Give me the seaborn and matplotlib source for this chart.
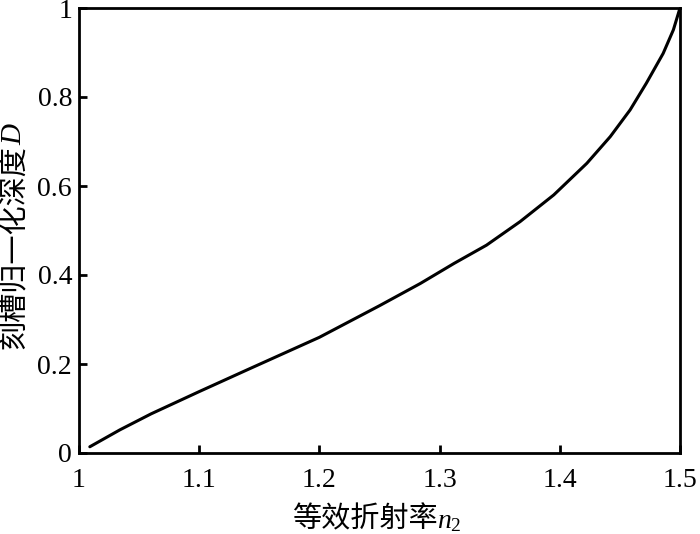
import matplotlib
matplotlib.use("Agg")
import matplotlib.pyplot as plt
import seaborn as sns
import pandas as pd

# data
n2 = [1.009, 1.034, 1.06, 1.10, 1.14, 1.20, 1.25, 1.284, 1.312, 1.339, 1.367,
      1.395, 1.4225, 1.442, 1.4585, 1.472, 1.486, 1.4945, 1.50]
D = [0.014, 0.052, 0.088, 0.138, 0.187, 0.260, 0.331, 0.381, 0.426, 0.467, 0.520,
     0.580, 0.651, 0.711, 0.771, 0.831, 0.898, 0.951, 1.000]
x_ticks = [1.0, 1.1, 1.2, 1.3, 1.4, 1.5]
x_tick_labels = ["1", "1.1", "1.2", "1.3", "1.4", "1.5"]
y_ticks = [0.0, 0.2, 0.4, 0.6, 0.8, 1.0]
y_tick_labels = ["0", "0.2", "0.4", "0.6", "0.8", "1"]
x_label = "等效折射率"
y_label = "刻槽归一化深度"

sns.set_theme(style="white")
plt.rcParams["font.family"] = ["Liberation Serif", "Noto Sans CJK SC", "DejaVu Sans"]
plt.rcParams["mathtext.fontset"] = "custom"
plt.rcParams["mathtext.rm"] = "Liberation Serif"
plt.rcParams["mathtext.it"] = "Liberation Serif:italic"

df = pd.DataFrame({"n2": n2, "D": D})

fig = plt.figure(figsize=(7.0, 5.34), dpi=100)
ax = fig.add_axes([79 / 700, (534 - 453) / 534, 601 / 700, 445 / 534])
sns.lineplot(data=df, x="n2", y="D", ax=ax, color="black", linewidth=2.2)

ax.set_xlim(1.0, 1.5)
ax.set_ylim(0.0, 1.0)
ax.set_xticks(x_ticks)
ax.set_xticklabels(x_tick_labels)
ax.set_yticks(y_ticks)
ax.set_yticklabels(y_tick_labels)
ax.tick_params(axis="both", direction="in", length=6, width=2, colors="black",
               labelsize=20, bottom=True, left=True, top=False, right=False)
ax.tick_params(axis="x", pad=11)
ax.tick_params(axis="y", pad=5)
for s in ax.spines.values():
    s.set_visible(True)
    s.set_color("black")
    s.set_linewidth(2.0)

cjk = ["Noto Sans CJK SC", "DejaVu Sans"]
ax.set_xlabel(x_label, fontsize=21, family=cjk, color="black")
ax.set_ylabel(y_label, fontsize=21, family=cjk, color="black")
ax.xaxis.set_label_coords(0.475, -0.116)
ax.yaxis.set_label_coords(-0.083, 0.462)

ax.annotate("$n_{2}$", xy=(1.0, 0.45), xycoords=ax.xaxis.label,
            ha="left", va="center", fontsize=20, color="black")
ax.annotate("$D$", xy=(0.5, 1.0), xycoords=ax.yaxis.label,
            ha="center", va="bottom", rotation=90, fontsize=21, color="black")

fig.savefig("out.png", dpi=100, facecolor="white")
